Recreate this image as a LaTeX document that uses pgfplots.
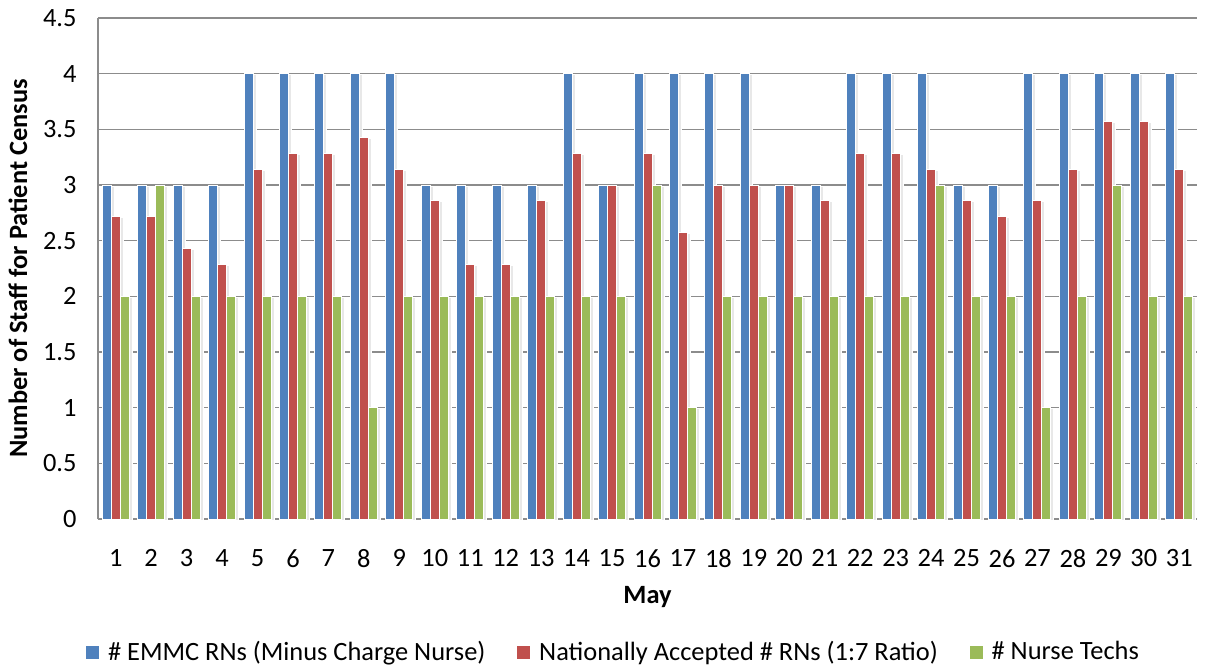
\documentclass[border=0pt]{standalone}
\usepackage{pgfplots}
\pgfplotsset{compat=1.18}
\usepackage{pgfplotstable}
\usepackage{fontspec}
\setmainfont{Carlito}
\usetikzlibrary{calc,shadows}

\definecolor{emmc}{HTML}{4F81BD}
\definecolor{natl}{HTML}{C0504D}
\definecolor{tech}{HTML}{9BBB59}
\definecolor{gridgray}{HTML}{8C8C8C}

% staff per day in May; natl = census / 7
\pgfplotstableread{
day emmc natl tech
1 3 2.714 2
2 3 2.714 3
3 3 2.429 2
4 3 2.286 2
5 4 3.143 2
6 4 3.286 2
7 4 3.286 2
8 4 3.429 1
9 4 3.143 2
10 3 2.857 2
11 3 2.286 2
12 3 2.286 2
13 3 2.857 2
14 4 3.286 2
15 3 3.000 2
16 4 3.286 3
17 4 2.571 1
18 4 3.000 2
19 4 3.000 2
20 3 3.000 2
21 3 2.857 2
22 4 3.286 2
23 4 3.286 2
24 4 3.143 3
25 3 2.857 2
26 3 2.714 2
27 4 2.857 1
28 4 3.143 2
29 4 3.571 3
30 4 3.571 2
31 4 3.143 2
}\staffdata

\begin{document}
\begin{tikzpicture}[font=\fontsize{13.2}{16}\selectfont]
\begin{axis}[
    name=ax,
    scale only axis,
    width=549.5pt, height=250.5pt,
    ybar, bar width=4.5pt,
    xmin=0.5, xmax=31.5,
    ymin=0, ymax=4.5,
    xtick={1,...,31},
    ytick={0,0.5,1,1.5,2,2.5,3,3.5,4,4.5},
    /pgf/number format/assume math mode=true,
    /pgf/number format/fixed,
    tick style={draw=none},
    xticklabel style={yshift=-7.5pt},
    yticklabel style={xshift=-7.2pt},
    axis x line*=bottom, axis y line*=left,
    axis line style={draw=gridgray, line width=0.8pt, -},
    ymajorgrids,
    major grid style={draw=gridgray, line width=0.8pt},
    xlabel={\textbf{May}},
    ylabel={\textbf{Number of Staff for Patient Census}},
    xlabel style={at={(axis description cs:0.5,-0.1557)}, anchor=center},
    ylabel style={at={(axis description cs:-0.0728,0.5)}, anchor=center},
    legend style={at={(0.47,-0.2655)}, anchor=center, draw=none,
                  legend columns=-1,
                  /tikz/every even column/.append style={column sep=14pt},
                  /tikz/every odd column/.append style={column sep=2.5pt}},
  ]
\addplot[forget plot, ybar, bar shift=-4.5pt, fill=emmc, draw=white, line width=0.5pt,
  drop shadow={shadow xshift=1.5pt, shadow yshift=-0.5pt, fill=black!9, opacity=1}]
  table[x=day, y=emmc] {\staffdata};
\addplot[forget plot, ybar, bar shift=0pt, fill=natl, draw=white, line width=0.5pt,
  drop shadow={shadow xshift=1.5pt, shadow yshift=-0.5pt, fill=black!9, opacity=1}]
  table[x=day, y=natl] {\staffdata};
\addplot[forget plot, ybar, bar shift=4.5pt, fill=tech, draw=white, line width=0.5pt,
  drop shadow={shadow xshift=1.5pt, shadow yshift=-0.5pt, fill=black!9, opacity=1}]
  table[x=day, y=tech] {\staffdata};
\addlegendimage{legend image code/.code={\fill[emmc] (0pt,-3pt) rectangle (6pt,3pt);}}
\addlegendimage{legend image code/.code={\fill[natl] (0pt,-3pt) rectangle (6pt,3pt);}}
\addlegendimage{legend image code/.code={\fill[tech] (0pt,-3pt) rectangle (6pt,3pt);}}
\legend{\# EMMC RNs (Minus Charge Nurse), Nationally Accepted \# RNs (1:7 Ratio), \# Nurse Techs}
\end{axis}
\pgfresetboundingbox
\path ($(ax.south west)+(-49pt,-74.5pt)$) rectangle ($(ax.north east)+(4.5pt,9pt)$);
\end{tikzpicture}
\end{document}
